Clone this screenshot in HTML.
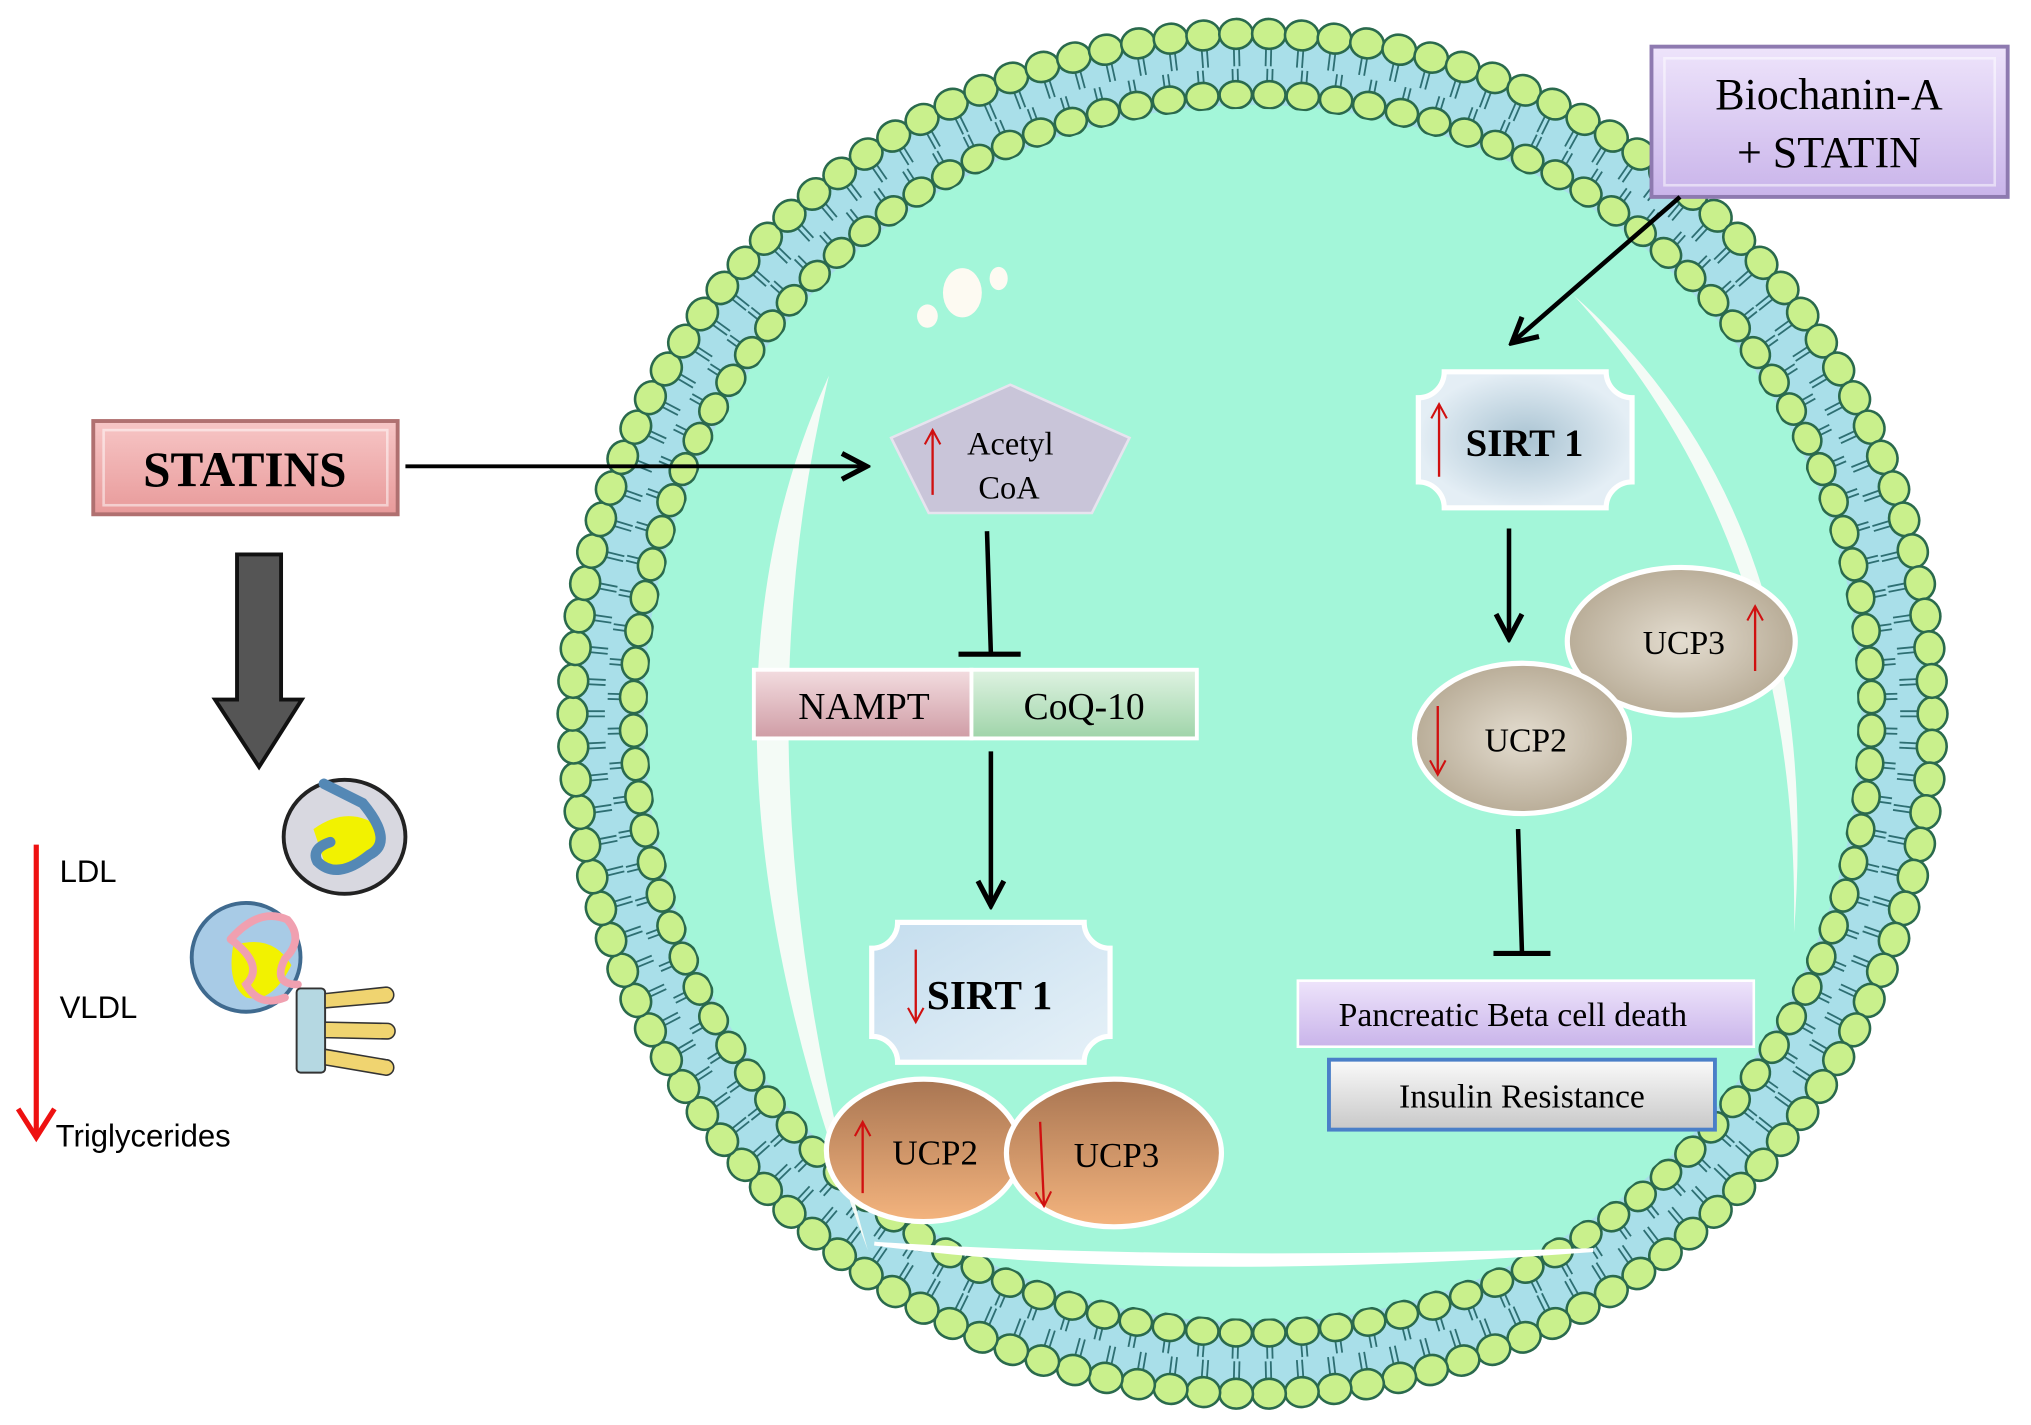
<!DOCTYPE html>
<html><head><meta charset="utf-8"><style>
html,body{margin:0;padding:0;background:#fff;}
svg{display:block;}
.serif{font-family:"Liberation Serif",serif;}
.sans{font-family:"Liberation Sans",sans-serif;}
</style></head><body>
<svg id="s" width="2031" height="1425" viewBox="0 0 1568 1100" preserveAspectRatio="none" xmlns="http://www.w3.org/2000/svg">
<defs>
<marker id="ahb" markerWidth="24" markerHeight="24" refX="20" refY="12" orient="auto" markerUnits="userSpaceOnUse"><path d="M2,2 L21,12 L2,22" fill="none" stroke="#000" stroke-width="4"/></marker>
<marker id="rh" markerWidth="14" markerHeight="14" refX="12" refY="7" orient="auto" markerUnits="userSpaceOnUse"><path d="M1,1 L12,7 L1,13" fill="none" stroke="#d01010" stroke-width="1.6"/></marker>
<linearGradient id="pink" x1="0" y1="0" x2="0" y2="1"><stop offset="0" stop-color="#f7c6c6"/><stop offset="1" stop-color="#e89a9a"/></linearGradient>
<linearGradient id="lav" x1="0" y1="0" x2="0" y2="1"><stop offset="0" stop-color="#eee4fb"/><stop offset="1" stop-color="#c9b4ea"/></linearGradient>
<linearGradient id="brown" x1="0" y1="0" x2="0" y2="1"><stop offset="0" stop-color="#a87552"/><stop offset="1" stop-color="#f4b47e"/></linearGradient>
<radialGradient id="beige"><stop offset="0" stop-color="#e4ddd0"/><stop offset="1" stop-color="#b9ad98"/></radialGradient>
<radialGradient id="sirt"><stop offset="0" stop-color="#a9c3d2"/><stop offset="1" stop-color="#e4eef5"/></radialGradient>
<linearGradient id="sirt2" x1="0" y1="0" x2="1" y2="1"><stop offset="0" stop-color="#c4ddee"/><stop offset="1" stop-color="#e6f1f8"/></linearGradient>
<linearGradient id="gray" x1="0" y1="0" x2="0" y2="1"><stop offset="0" stop-color="#fafafa"/><stop offset="1" stop-color="#c8c8c8"/></linearGradient>
<linearGradient id="nam" x1="0" y1="0" x2="0" y2="1"><stop offset="0" stop-color="#f3dde0"/><stop offset="1" stop-color="#cf9ca5"/></linearGradient>
<linearGradient id="coq" x1="0" y1="0" x2="0" y2="1"><stop offset="0" stop-color="#dff3e2"/><stop offset="1" stop-color="#9fd4a9"/></linearGradient>
</defs>
<circle cx="967" cy="551" r="528" fill="#a9dfe9"/>
<g id="tails" stroke="#2e6f73" stroke-width="1.4"></g>
<circle cx="967" cy="551" r="470" fill="#a3f6d9"/>
<g id="heads" fill="#c9f08c" stroke="#2a6a4d" stroke-width="2"></g>
<circle cx="967" cy="551" r="467" fill="#a3f6d9"/>
<path d="M640,290 Q515,560 670,965 Q565,600 640,290 Z" fill="#f4fbf6"/>
<path d="M675,960 Q900,990 1230,965 Q900,975 675,960 Z" fill="#fff" stroke="#fff" stroke-width="3"/>
<path d="M1215,228 Q1410,400 1385,720 Q1390,420 1215,228 Z" fill="#f4fbf6"/>
<ellipse cx="743" cy="226" rx="15" ry="19" fill="#fdfaf2"/>
<ellipse cx="716" cy="244" rx="8" ry="9" fill="#fdfaf2"/>
<ellipse cx="771" cy="215" rx="7" ry="9" fill="#fdfaf2"/>

<rect x="72" y="325" width="235" height="72" fill="url(#pink)" stroke="#b07070" stroke-width="3"/>
<rect x="80" y="332" width="219" height="58" fill="none" stroke="#fff" stroke-opacity=".5" stroke-width="2"/>
<text x="189" y="375" text-anchor="middle" class="serif" font-weight="bold" font-size="38">STATINS</text>
<line x1="313" y1="360" x2="668" y2="360" stroke="#000" stroke-width="3" marker-end="url(#ahb)"/>

<path d="M183,428 H217 V540 H233 L200,592 L166,540 H183 Z" fill="#555" stroke="#111" stroke-width="3"/>

<ellipse cx="266" cy="646" rx="47" ry="44" fill="#d8d8e0" stroke="#222" stroke-width="3"/>
<path d="M242,640 Q270,620 295,640 Q285,670 252,670 Z" fill="#f2f200"/>
<path d="M250,605 L280,620 Q305,650 285,660 Q260,680 245,665 Q240,655 255,650" fill="none" stroke="#5488b5" stroke-width="8" stroke-linecap="round"/>
<ellipse cx="190" cy="739" rx="42" ry="42" fill="#a8cbe6" stroke="#3f6a8f" stroke-width="3"/>
<path d="M180,730 Q210,720 225,745 Q210,775 190,770 Q175,760 180,730Z" fill="#f2f200"/>
<path d="M178,725 Q200,700 222,710 Q235,725 220,740 Q210,760 230,760 M178,725 Q205,745 190,760 Q200,778 220,770" fill="none" stroke="#f0a0b0" stroke-width="6" stroke-linecap="round"/>
<rect x="229" y="763" width="22" height="65" rx="3" fill="#b5d8e2" stroke="#333" stroke-width="1.5"/>
<g fill="#f0d470" stroke="#333" stroke-width="1.2"><path d="M251,767 L298,762 A6,6 0 0 1 298,774 L251,778Z"/><path d="M251,789 L299,790 A6,6 0 0 1 299,802 L251,801Z"/><path d="M251,810 L298,818 A6,6 0 0 1 298,830 L251,822Z"/></g>

<line x1="28" y1="652" x2="28" y2="878" stroke="#ee1111" stroke-width="4"/>
<path d="M14,856 L28,878 L42,856" fill="none" stroke="#ee1111" stroke-width="4"/>
<text x="46" y="681" class="sans" font-size="24">LDL</text>
<text x="46" y="786" class="sans" font-size="24">VLDL</text>
<text x="43" y="885" class="sans" font-size="24">Triglycerides</text>

<polygon points="780,297 872,338 843,396 717,396 688,338" fill="#c9c5d9" stroke="#e7e4ef" stroke-width="2"/>
<line x1="720" y1="382" x2="720" y2="332" stroke="#d01010" stroke-width="1.8" marker-end="url(#rh)"/>
<text x="780" y="351" text-anchor="middle" class="serif" font-size="25">Acetyl</text>
<text x="779" y="385" text-anchor="middle" class="serif" font-size="25">CoA</text>
<line x1="762" y1="410" x2="765" y2="505" stroke="#000" stroke-width="3.5"/>
<line x1="740" y1="505" x2="788" y2="505" stroke="#000" stroke-width="4"/>
<rect x="582" y="517" width="168" height="53" fill="url(#nam)" stroke="#fff" stroke-width="3"/>
<rect x="750" y="517" width="174" height="53" fill="url(#coq)" stroke="#fff" stroke-width="3"/>
<text x="667" y="555" text-anchor="middle" class="serif" font-size="29">NAMPT</text>
<text x="837" y="555" text-anchor="middle" class="serif" font-size="29">CoQ-10</text>
<line x1="765" y1="580" x2="765" y2="698" stroke="#000" stroke-width="3.5" marker-end="url(#ahb)"/>

<path d="M693,712 H837 A20,20 0 0 0 857,732 V800 A20,20 0 0 0 837,820 H693 A20,20 0 0 0 673,800 V732 A20,20 0 0 0 693,712 Z" fill="url(#sirt2)" stroke="#fff" stroke-width="4"/>
<text x="764" y="779" text-anchor="middle" class="serif" font-weight="bold" font-size="32">SIRT 1</text>
<line x1="707" y1="733" x2="707" y2="789" stroke="#d01010" stroke-width="1.8" marker-end="url(#rh)"/>

<ellipse cx="713" cy="888" rx="75" ry="55" fill="url(#brown)" stroke="#fff" stroke-width="4"/>
<ellipse cx="860" cy="890" rx="83" ry="57" fill="url(#brown)" stroke="#fff" stroke-width="4"/>
<text x="722" y="899" text-anchor="middle" class="serif" font-size="27">UCP2</text>
<text x="862" y="901" text-anchor="middle" class="serif" font-size="27">UCP3</text>
<line x1="666" y1="921" x2="666" y2="866" stroke="#d01010" stroke-width="1.8" marker-end="url(#rh)"/>
<line x1="803" y1="866" x2="806" y2="931" stroke="#d01010" stroke-width="1.8" marker-end="url(#rh)"/>

<rect x="1275" y="36" width="275" height="116" fill="url(#lav)" stroke="#8e7ab0" stroke-width="3"/>
<rect x="1285" y="45" width="255" height="98" fill="none" stroke="#fff" stroke-opacity=".5" stroke-width="2"/>
<text x="1412" y="84" text-anchor="middle" class="serif" font-size="34">Biochanin-A</text>
<text x="1412" y="129" text-anchor="middle" class="serif" font-size="34">+ STATIN</text>
<line x1="1297" y1="152" x2="1168" y2="264" stroke="#000" stroke-width="3.5" marker-end="url(#ahb)"/>

<path d="M1115,287 H1240 A20,20 0 0 0 1260,307 V372 A20,20 0 0 0 1240,392 H1115 A20,20 0 0 0 1095,372 V307 A20,20 0 0 0 1115,287 Z" fill="url(#sirt)" stroke="#fff" stroke-width="4"/>
<text x="1177" y="352" text-anchor="middle" class="serif" font-weight="bold" font-size="30">SIRT 1</text>
<line x1="1111" y1="368" x2="1111" y2="312" stroke="#d01010" stroke-width="1.8" marker-end="url(#rh)"/>
<line x1="1165" y1="408" x2="1165" y2="492" stroke="#000" stroke-width="3.5" marker-end="url(#ahb)"/>

<ellipse cx="1298" cy="495" rx="88" ry="57" fill="url(#beige)" stroke="#fff" stroke-width="4"/>
<ellipse cx="1175" cy="570" rx="83" ry="58" fill="url(#beige)" stroke="#fff" stroke-width="4"/>
<text x="1300" y="505" text-anchor="middle" class="serif" font-size="26">UCP3</text>
<text x="1178" y="580" text-anchor="middle" class="serif" font-size="26">UCP2</text>
<line x1="1355" y1="518" x2="1355" y2="468" stroke="#d01010" stroke-width="1.8" marker-end="url(#rh)"/>
<line x1="1110" y1="545" x2="1110" y2="598" stroke="#d01010" stroke-width="1.8" marker-end="url(#rh)"/>

<line x1="1172" y1="640" x2="1175" y2="735" stroke="#000" stroke-width="3.5"/>
<line x1="1153" y1="736" x2="1197" y2="736" stroke="#000" stroke-width="4"/>
<rect x="1002" y="757" width="352" height="51" fill="url(#lav)" stroke="#fff" stroke-width="2"/>
<text x="1168" y="792" text-anchor="middle" class="serif" font-size="26">Pancreatic Beta cell death</text>
<rect x="1026" y="818" width="298" height="54" fill="url(#gray)" stroke="#4a7fc8" stroke-width="3"/>
<text x="1175" y="855" text-anchor="middle" class="serif" font-size="26">Insulin Resistance</text>
</svg>
<script>
(function(){
var NS="http://www.w3.org/2000/svg",cx=967,cy=551;
var heads=document.getElementById('heads'),tails=document.getElementById('tails');
function el(p,t,a){var e=document.createElementNS(NS,t);for(var k in a)e.setAttribute(k,a[k]);p.appendChild(e);}
var n1=130,n2=116;
for(var i=0;i<n1;i++){var a=i/n1*2*Math.PI,c=Math.cos(a),s=Math.sin(a);
 el(tails,'line',{x1:cx+c*515-s*2,y1:cy+s*515+c*2,x2:cx+c*500-s*2,y2:cy+s*500+c*2});
 el(tails,'line',{x1:cx+c*515+s*2,y1:cy+s*515-c*2,x2:cx+c*500+s*2,y2:cy+s*500-c*2});
 el(heads,'ellipse',{cx:cx+c*525,cy:cy+s*525,rx:11.5,ry:13,transform:'rotate('+(a*180/Math.PI)+' '+(cx+c*525)+' '+(cy+s*525)+')'});}
for(var i=0;i<n2;i++){var a=(i+0.5)/n2*2*Math.PI,c=Math.cos(a),s=Math.sin(a);
 el(tails,'line',{x1:cx+c*482-s*2,y1:cy+s*482+c*2,x2:cx+c*498-s*2,y2:cy+s*498+c*2});
 el(tails,'line',{x1:cx+c*482+s*2,y1:cy+s*482-c*2,x2:cx+c*498+s*2,y2:cy+s*498-c*2});
 el(heads,'ellipse',{cx:cx+c*478,cy:cy+s*478,rx:10.5,ry:12.5,transform:'rotate('+(a*180/Math.PI)+' '+(cx+c*478)+' '+(cy+s*478)+')'});}
})();
</script>
</body></html>
